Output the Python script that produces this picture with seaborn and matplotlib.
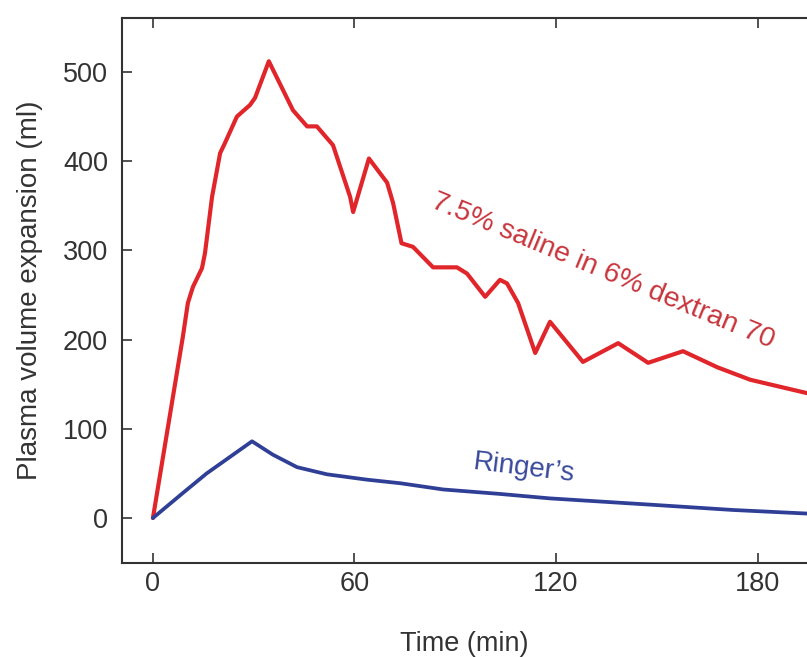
import pandas as pd
import matplotlib
matplotlib.use("Agg")
import matplotlib.pyplot as plt
import seaborn as sns

# values
saline_t = [0, 8.9, 10.4, 11.9, 14.6, 15.5, 17.6, 20, 21.4, 25, 28.9, 30.4, 34.5, 41.7, 45.9,
            48.8, 53.6, 58.7, 59.6, 64.3, 69.7, 71.5, 74, 77.4, 83.4, 90.5, 93.5, 98.9, 103.3,
            105.4, 108.7, 113.8, 118.2, 128, 138.5, 147.4, 157.8, 168, 177.8, 194.7]
saline_v = [0, 203, 241, 259, 280, 297, 360, 409, 420, 450, 463, 471, 512, 457, 439,
            439, 418, 360, 343, 403, 376, 353, 308, 304, 281, 281, 274, 248, 267,
            263, 241, 185, 220, 175, 196, 174, 187, 169, 155, 140]

ringer_t = [0, 8.9, 16, 29.5, 35.7, 42.9, 51.8, 63.7, 73.6, 86.4, 103.3, 118.2, 148, 172.7, 194.7]
ringer_v = [0, 28, 50, 86, 71, 57, 49, 43, 39, 32, 27, 22, 15, 9, 5]

x_ticks = [0, 60, 120, 180]
y_ticks = [0, 100, 200, 300, 400, 500]

red = "#e1262b"
blue = "#2f3f96"

sns.set_style("ticks")
plt.rcParams['font.family'] = ['Liberation Sans', 'DejaVu Sans']

fig = plt.figure(figsize=(8.07, 6.57), dpi=100)
ax = fig.add_axes([0.1512, 0.1431, 0.8488, 0.8295])

saline = pd.DataFrame({"t": saline_t, "v": saline_v})
ringer = pd.DataFrame({"t": ringer_t, "v": ringer_v})
sns.lineplot(data=saline, x="t", y="v", ax=ax, color=red, linewidth=3.0,
             solid_joinstyle="round", solid_capstyle="round")
sns.lineplot(data=ringer, x="t", y="v", ax=ax, color=blue, linewidth=2.7,
             solid_joinstyle="round", solid_capstyle="round")

ax.set_xlim(-9.2, 194.7)
ax.set_ylim(-50.4, 560.5)
ax.set_xticks(x_ticks)
ax.set_yticks(y_ticks)
ax.tick_params(direction="in", length=7, width=1.2, top=True, right=False,
               labelsize=19.5, colors="#333333", pad=10)
ax.tick_params(axis="x", pad=6)
for s in ["left", "top", "bottom"]:
    ax.spines[s].set_color("#333333")
    ax.spines[s].set_linewidth(1.5)
ax.spines["right"].set_visible(False)

ax.set_xlabel("Time (min)", fontsize=19.5, color="#333333", labelpad=24)
ax.set_ylabel("Plasma volume expansion (ml)", fontsize=20, color="#333333", labelpad=14)

ax.text(134, 277, "7.5% saline in 6% dextran 70", rotation=-22.5, fontsize=20.5,
        color="#c8353c", ha="center", va="center", rotation_mode="anchor")
ax.text(110.5, 56, "Ringer\u2019s", rotation=-7, fontsize=20, color="#3a4a9c",
        ha="center", va="center", rotation_mode="anchor")

fig.savefig("out.png", dpi=100)
